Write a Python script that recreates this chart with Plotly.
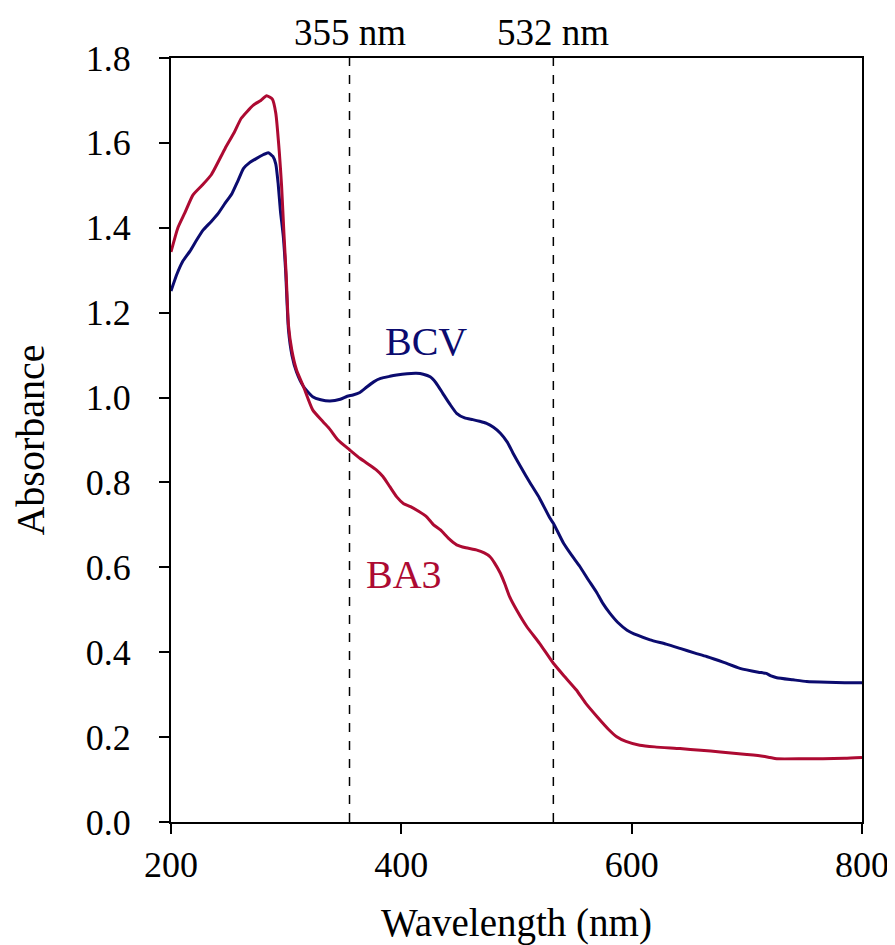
import plotly.graph_objects as go

# Wavelength (nm) and absorbance for sample BA3
ba3_wl = [200, 206, 212, 219, 227, 235, 247, 255, 261, 271.5, 278, 283, 288, 291, 294, 296, 298, 300, 302,
          305, 309, 315, 323, 332, 338, 345, 355, 364, 373, 378, 384, 390, 396, 402, 408, 415, 422, 428, 434,
          441, 448, 456, 465, 472, 477, 481, 486, 490, 494, 500, 509, 520, 532, 542, 552, 560, 570, 580, 587,
          595, 607, 620, 642, 660, 677, 700, 714, 720, 726, 750, 766, 785, 800]
ba3_abs = [1.343, 1.40, 1.435, 1.477, 1.50, 1.525, 1.587, 1.625, 1.658, 1.689, 1.700, 1.711, 1.703, 1.67, 1.58,
           1.50, 1.39, 1.29, 1.17, 1.11, 1.065, 1.026, 0.971, 0.943, 0.925, 0.90, 0.877, 0.857, 0.840, 0.83,
           0.814, 0.79, 0.766, 0.75, 0.743, 0.732, 0.719, 0.70, 0.688, 0.668, 0.653, 0.646, 0.641, 0.634,
           0.625, 0.61, 0.586, 0.56, 0.531, 0.50, 0.460, 0.421, 0.374, 0.342, 0.311, 0.28, 0.248, 0.218,
           0.201, 0.19, 0.181, 0.177, 0.173, 0.169, 0.165, 0.159, 0.155, 0.152, 0.149, 0.149, 0.149, 0.150, 0.152]

# Wavelength (nm) and absorbance for sample BCV
bcv_wl = [200, 205, 210, 216.5, 222, 228, 235, 241, 247, 253, 258, 263, 268, 274, 280, 284.4, 288.5, 291, 293,
          295, 297.5, 299.5, 302, 305, 309, 315, 323, 330, 338, 347, 353, 358, 364, 370, 376, 382, 390, 396,
          405, 413, 419, 425, 430, 436, 442, 448, 455, 462, 468, 474, 480, 486, 492, 497, 504, 512, 520, 529,
          532, 541, 548, 555, 562, 570, 575, 581, 588, 596, 605, 616, 630, 642, 655, 665, 680, 694, 710, 717,
          721, 726, 740, 752, 770, 785, 800]
bcv_abs = [1.251, 1.29, 1.32, 1.345, 1.37, 1.395, 1.415, 1.434, 1.458, 1.481, 1.51, 1.540, 1.553, 1.563, 1.572,
           1.577, 1.568, 1.55, 1.505, 1.44, 1.38, 1.30, 1.16, 1.10, 1.06, 1.026, 1.002, 0.995, 0.992, 0.996,
           1.003, 1.006, 1.012, 1.025, 1.037, 1.045, 1.050, 1.053, 1.056, 1.057, 1.055, 1.049, 1.035, 1.010,
           0.985, 0.963, 0.952, 0.948, 0.944, 0.939, 0.93, 0.916, 0.895, 0.869, 0.835, 0.798, 0.763, 0.716,
           0.704, 0.656, 0.628, 0.602, 0.572, 0.539, 0.515, 0.492, 0.470, 0.452, 0.440, 0.429, 0.419, 0.409,
           0.398, 0.390, 0.376, 0.362, 0.353, 0.350, 0.344, 0.340, 0.335, 0.331, 0.329, 0.328, 0.328]

marker_wl = [355, 532]
marker_labels = ["355 nm", "532 nm"]
x_ticks = [200, 400, 600, 800]

FONT = "Liberation Serif"
NAVY = "#0b0b6f"
CRIMSON = "#ad0a32"

fig = go.Figure()
fig.add_trace(go.Scatter(x=bcv_wl, y=bcv_abs, mode="lines", name="BCV",
                         line=dict(color=NAVY, width=3, shape="spline", smoothing=0.5)))
fig.add_trace(go.Scatter(x=ba3_wl, y=ba3_abs, mode="lines", name="BA3",
                         line=dict(color=CRIMSON, width=3, shape="spline", smoothing=0.5)))

for wl, lab in zip(marker_wl, marker_labels):
    fig.add_shape(type="line", x0=wl, x1=wl, y0=0, y1=1, xref="x", yref="paper",
                  line=dict(color="black", width=1.5, dash="dash"), layer="below")
    fig.add_annotation(x=wl, y=1, xref="x", yref="paper", text=lab, showarrow=False,
                       yanchor="bottom", yshift=3, font=dict(family=FONT, size=37, color="black"))

fig.add_annotation(x=421, y=1.131, text="BCV", showarrow=False,
                   font=dict(family=FONT, size=40, color=NAVY))
fig.add_annotation(x=402, y=0.582, text="BA3", showarrow=False,
                   font=dict(family=FONT, size=40, color=CRIMSON))

# page body adds an 8px offset, so the figure is sized to fit the window
fig.update_layout(
    width=887, height=937,
    margin=dict(l=163, r=33, t=50, b=123),
    paper_bgcolor="white", plot_bgcolor="white",
    showlegend=False,
    font=dict(family=FONT, size=36, color="black"),
)
fig.update_xaxes(range=[200, 800], tickvals=x_ticks, ticks="outside", ticklen=10, tickwidth=1.5,
                 tickcolor="black", showline=True, linecolor="black", linewidth=2, mirror=True,
                 showgrid=False, zeroline=False, ticklabelstandoff=0, automargin=False,
                 title=dict(text="Wavelength (nm)", font=dict(family=FONT, size=39), standoff=24))
fig.update_yaxes(range=[0, 1.8], dtick=0.2, tickformat=".1f", ticks="outside", ticklen=10, tickwidth=1.5,
                 tickcolor="black", showline=True, linecolor="black", linewidth=2, mirror=True,
                 showgrid=False, zeroline=False, ticklabelstandoff=21, automargin=False,
                 title=dict(text="Absorbance", font=dict(family=FONT, size=40), standoff=30))

fig.write_html("out.html")
